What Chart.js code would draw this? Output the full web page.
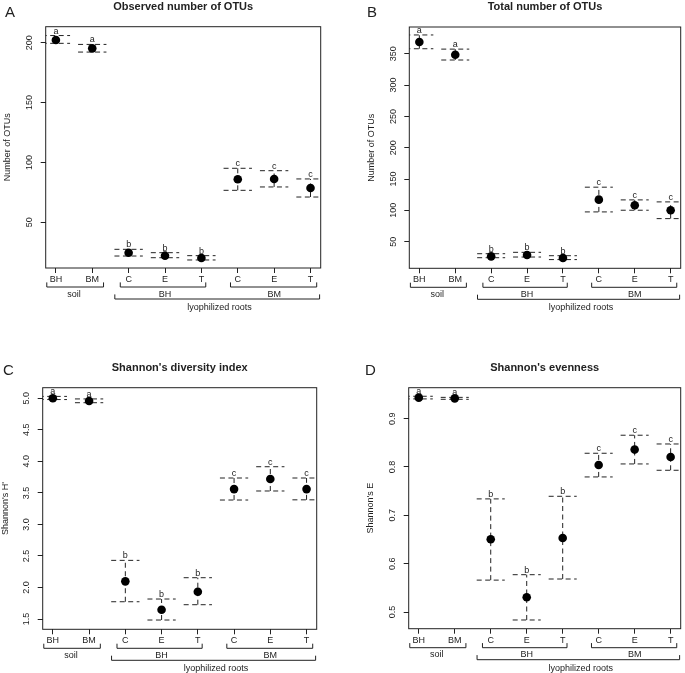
<!DOCTYPE html>
<html><head><meta charset="utf-8">
<script src="https://cdn.jsdelivr.net/npm/chart.js@4.4.0/dist/chart.umd.min.js"></script>
<style>
html,body{margin:0;padding:0;background:#fff;width:685px;height:673px;overflow:hidden;}
canvas{position:absolute;}
</style></head><body>
<canvas id="cA" width="343" height="337" style="left:0px;top:0px"></canvas>
<canvas id="cB" width="343" height="337" style="left:342px;top:0px"></canvas>
<canvas id="cC" width="343" height="337" style="left:0px;top:336px"></canvas>
<canvas id="cD" width="343" height="337" style="left:342px;top:336px"></canvas>
<script>
// ---- data ----
const categories = ['BH','BM','C','E','T','C','E','T'];
const letters = ['a','a','b','b','b','c','c','c'];
const groupLabels = ['soil','BH','BM'];
const outerLabel = 'lyophilized roots';

const obsMean  = [202.3,195.3,24.6,22.1,20.2,85.9,86.2,78.7];
const obsUpper = [206,198.6,27.4,24.6,22.1,95.1,93.1,86.2];
const obsLower = [199.5,192.2,21.8,20.4,18.5,76.7,79.5,71.1];
const obsTicks = [50,100,150,200];

const totMean  = [368.7,348.4,26.6,28.7,23.9,117.1,108.2,100.2];
const totUpper = [380,357.4,30.8,33,27.6,137,116.7,113.5];
const totLower = [358,340,24.4,25.5,21.4,97.5,100.2,86.8];
const totTicks = [50,100,150,200,250,300,350];

const hMean  = [5.0,4.957,2.097,1.647,1.933,3.56,3.72,3.56];
const hUpper = [5.03,4.99,2.43,1.817,2.155,3.736,3.915,3.736];
const hLower = [4.98,4.93,1.774,1.484,1.727,3.387,3.53,3.39];
const hTicks = [1.5,2.0,2.5,3.0,3.5,4.0,4.5,5.0];

const eMean  = [0.9434,0.942,0.6504,0.5305,0.653,0.804,0.836,0.8208];
const eUpper = [0.9463,0.944,0.734,0.5772,0.7394,0.8284,0.8657,0.8476];
const eLower = [0.9408,0.940,0.566,0.4835,0.5683,0.7794,0.8063,0.7932];
const eTicks = [0.5,0.6,0.7,0.8,0.9];

// ---- layout / style ----
const FONT = "'Liberation Sans', Arial, Helvetica, sans-serif";
const INK = '#222';
Chart.defaults.font.family = FONT;
Chart.defaults.font.size = 9;
Chart.defaults.color = INK;

const W = 343, H = 337, TL = 5, CAPW = 0.39;
const groupSpans = [[0.75,2.31],[2.77,5.12],[5.8,8.17]];
const groupCenters = [1.5,4,7];
const outerSpan = [2.62,8.25];
const outerCenter = 5.5;

function makePanel(id, cfg) {
  const mctx = document.createElement('canvas').getContext('2d');
  mctx.font = '9px ' + FONT;
  const widest = Math.max(...cfg.ticks.map(t => mctx.measureText(cfg.fmt(t)).width));
  const pad = 15.8 - TL - widest / 2;
  const xs = categories.map((c, i) => i + 1);

  const barData = [], capData = [], ptData = [];
  cfg.mean.forEach((m, i) => {
    const x = i + 1;
    ptData.push({x, y: m});
    barData.push({x, y: cfg.lower[i]}, {x, y: cfg.upper[i]}, {x, y: null});
    capData.push({x: x - CAPW, y: cfg.upper[i]}, {x: x + CAPW, y: cfg.upper[i]}, {x, y: null},
                 {x: x - CAPW, y: cfg.lower[i]}, {x: x + CAPW, y: cfg.lower[i]}, {x, y: null});
  });

  const deco = {
    id: 'deco',
    afterDatasetsDraw(chart) {
      const {ctx, scales: {x, y}} = chart;
      ctx.save();
      ctx.fillStyle = INK;
      ctx.font = '9px ' + FONT;
      ctx.textAlign = 'center';
      ctx.textBaseline = 'alphabetic';
      letters.forEach((l, i) => {
        ctx.fillText(l, x.getPixelForValue(i + 1), y.getPixelForValue(cfg.upper[i]) - 2);
      });
      ctx.restore();
    },
    afterDraw(chart) {
      const {ctx, chartArea: a, scales: {x}} = chart;
      ctx.save();
      ctx.strokeStyle = INK;
      ctx.lineWidth = 1;
      ctx.strokeRect(a.left, a.top, a.right - a.left, a.bottom - a.top);
      const bracket = (x0, x1, yl, rise) => {
        ctx.beginPath();
        ctx.moveTo(x.getPixelForValue(x0), yl - rise);
        ctx.lineTo(x.getPixelForValue(x0), yl);
        ctx.lineTo(x.getPixelForValue(x1), yl);
        ctx.lineTo(x.getPixelForValue(x1), yl - rise);
        ctx.stroke();
      };
      const y1 = a.bottom + 19, y2 = a.bottom + 31;
      groupSpans.forEach(s => bracket(s[0], s[1], y1, 4.6));
      bracket(outerSpan[0], outerSpan[1], y2, 4.6);
      ctx.fillStyle = INK;
      ctx.font = '9px ' + FONT;
      ctx.textAlign = 'center';
      ctx.textBaseline = 'alphabetic';
      groupLabels.forEach((g, i) => ctx.fillText(g, x.getPixelForValue(groupCenters[i]), a.bottom + 28.5));
      ctx.fillText(outerLabel, x.getPixelForValue(outerCenter), a.bottom + 42);
      // title
      ctx.font = 'bold 11px ' + FONT;
      ctx.fillText(cfg.title, (a.left + a.right) / 2, a.top - 17);
      // panel letter
      ctx.textAlign = 'left';
      ctx.font = '15px ' + FONT;
      ctx.fillText(cfg.letter, cfg.lx, cfg.ly);
      ctx.restore();
    }
  };

  new Chart(document.getElementById(id), {
    type: 'scatter',
    data: {
      datasets: [
        {data: ptData, pointRadius: 4.3, pointHoverRadius: 4.3, backgroundColor: '#000', borderWidth: 0, showLine: false},
        {data: barData, showLine: true, spanGaps: false, pointRadius: 0, borderColor: INK, borderWidth: 1, borderDash: [5, 3.5]},
        {data: capData, showLine: true, spanGaps: false, pointRadius: 0, borderColor: INK, borderWidth: 1, borderDash: [5, 3.5]}
      ]
    },
    options: {
      responsive: false,
      animation: false,
      events: [],
      layout: {padding: {left: 0, top: cfg.box.t, right: W - cfg.box.r, bottom: 0}},
      plugins: {legend: {display: false}, tooltip: {enabled: false}, title: {display: false}},
      scales: {
        x: {
          type: 'linear', min: 0.72, max: 8.28,
          afterBuildTicks: s => { s.ticks = xs.map(v => ({value: v})); },
          afterFit: s => { s.height = H - cfg.box.b; },
          grid: {drawOnChartArea: false, drawTicks: true, tickLength: TL, tickColor: INK},
          border: {display: false},
          ticks: {autoSkip: false, maxRotation: 0, minRotation: 0, padding: 1, color: INK, font: {size: 9},
                  callback: v => categories[Math.round(v) - 1]}
        },
        y: {
          type: 'linear', min: cfg.ymin, max: cfg.ymax,
          afterBuildTicks: s => { s.ticks = cfg.ticks.map(v => ({value: v})); },
          afterFit: s => { s.width = cfg.box.l; },
          grid: {drawOnChartArea: false, drawTicks: true, tickLength: TL, tickColor: INK},
          border: {display: false},
          ticks: {autoSkip: false, minRotation: 90, maxRotation: 90, crossAlign: 'center', padding: pad,
                  color: INK, font: {size: 9}, callback: v => cfg.fmt(v)},
          title: {display: true, text: cfg.ytitle, color: INK, font: {size: 9},
                  padding: {top: Math.max(0, cfg.box.l - 38 - 5.4), bottom: 0}}
        }
      }
    },
    plugins: [deco]
  });
}

const intFmt = v => String(Math.round(v));
const decFmt = v => v.toFixed(1);

makePanel('cA', {title: 'Observed number of OTUs', letter: 'A', lx: 5, ly: 16.7, ytitle: 'Number of OTUs',
  mean: obsMean, upper: obsUpper, lower: obsLower, ticks: obsTicks, fmt: intFmt,
  ymin: 11.8, ymax: 213.4, box: {l: 45.7, r: 320.7, t: 26.7, b: 268}});
makePanel('cB', {title: 'Total number of OTUs', letter: 'B', lx: 25, ly: 16.7, ytitle: 'Number of OTUs',
  mean: totMean, upper: totUpper, lower: totLower, ticks: totTicks, fmt: intFmt,
  ymin: 7.5, ymax: 392.7, box: {l: 67.3, r: 341.7, t: 27, b: 268.3}});
makePanel('cC', {title: "Shannon's diversity index", letter: 'C', lx: 3, ly: 39.3, ytitle: "Shannon's H'",
  mean: hMean, upper: hUpper, lower: hLower, ticks: hTicks, fmt: decFmt,
  ymin: 1.337, ymax: 5.168, box: {l: 42.7, r: 316.7, t: 51.7, b: 293.3}});
makePanel('cD', {title: "Shannon's evenness", letter: 'D', lx: 23, ly: 39.3, ytitle: "Shannon's E",
  mean: eMean, upper: eUpper, lower: eLower, ticks: eTicks, fmt: decFmt,
  ymin: 0.4655, ymax: 0.964, box: {l: 66.7, r: 340.7, t: 51.7, b: 292.7}});
</script>
</body></html>
